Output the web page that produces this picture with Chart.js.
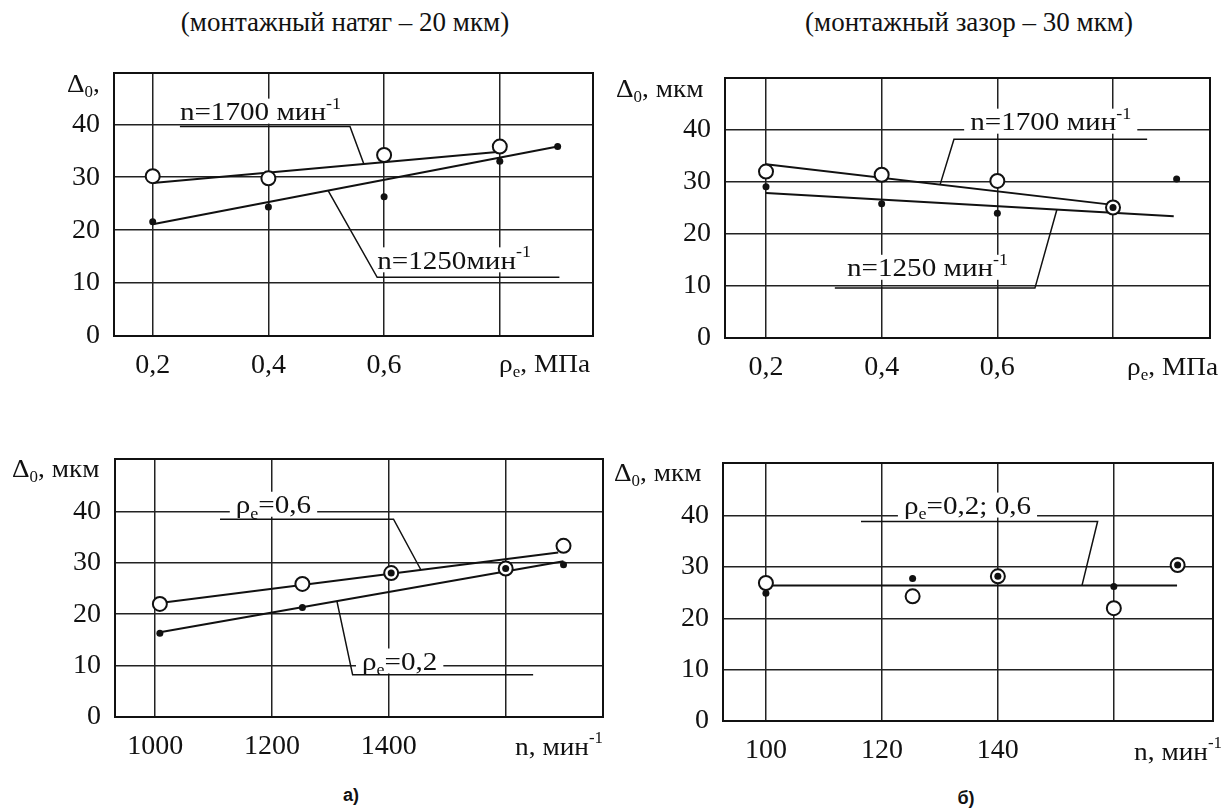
<!DOCTYPE html>
<html lang="ru">
<head>
<meta charset="utf-8">
<script src="https://cdn.jsdelivr.net/npm/chart.js@4.4.1/dist/chart.umd.min.js"></script>
<style>
  body { margin: 0; background: #fff; }
  #page { position: relative; width: 1231px; height: 808px; overflow: hidden; background: #fff; color: #111; }
  canvas { position: absolute; }
  .cap { position: absolute; transform: translate(-50%, -50%); white-space: nowrap; }
  .hd { font-family: 'Liberation Serif', 'Times New Roman', serif; font-size: 27px; }
  .lt { font-family: 'Liberation Sans', Arial, sans-serif; font-weight: bold; font-size: 18px; }
</style>
</head>
<body>
<div id="page">
  <div class="cap hd" style="left:345px;top:22px">(монтажный натяг – 20 мкм)</div>
  <div class="cap hd" style="left:969px;top:22px">(монтажный зазор – 30 мкм)</div>
  <canvas id="c1"></canvas>
  <canvas id="c2"></canvas>
  <canvas id="c3"></canvas>
  <canvas id="c4"></canvas>
  <div class="cap lt" style="left:351px;top:795px">а)</div>
  <div class="cap lt" style="left:966px;top:798px">б)</div>
</div>
<script>
// tick labels
const PE_TICKS = [0.2, 0.4, 0.6, 0.8];
const PE_LABELS = ['0,2', '0,4', '0,6', ''];
const N1_TICKS = [1000, 1200, 1400, 1600];
const N1_LABELS = ['1000', '1200', '1400', ''];
const N2_TICKS = [100, 120, 140, 160];
const N2_LABELS = ['100', '120', '140', ''];
const D_TICKS = [0, 10, 20, 30, 40];

// а) top: Δ0 vs ρe, натяг 20 мкм
const a1X1700 = [0.2, 0.4, 0.6, 0.8];
const a1N1700 = [30.2, 29.8, 34.2, 35.8];
const a1X1250 = [0.2, 0.4, 0.6, 0.8, 0.9];
const a1N1250 = [21.6, 24.4, 26.3, 33.0, 35.8];
const a1FitX1700 = [0.2, 0.8];
const a1Fit1700 = [28.9, 34.8];
const a1FitX1250 = [0.2, 0.9];
const a1Fit1250 = [21.1, 35.8];

// б) top: Δ0 vs ρe, зазор 30 мкм
const b1X1700 = [0.2, 0.4, 0.6, 0.8];
const b1N1700 = [32.0, 31.4, 30.2, 25.1];
const b1X1250 = [0.2, 0.4, 0.6, 0.8, 0.91];
const b1N1250 = [29.1, 25.8, 24.0, 25.1, 30.6];
const b1FitX1700 = [0.2, 0.8];
const b1Fit1700 = [33.4, 25.6];
const b1FitX1250 = [0.2, 0.905];
const b1Fit1250 = [27.9, 23.4];

// а) bottom: Δ0 vs n
const a2X = [1008, 1252, 1404, 1600, 1699];
const a2Pe06 = [22.0, 25.9, 28.0, 28.9, 33.3];
const a2Pe02 = [16.3, 21.3, 28.0, 28.9, 29.6];
const a2FitX06 = [1008, 1690];
const a2Fit06 = [22.2, 32.0];
const a2FitX02 = [1008, 1699];
const a2Fit02 = [16.5, 30.3];

// б) bottom: Δ0 vs n
const b2X = [100, 125.3, 140, 160, 171];
const b2Pe06 = [26.9, 24.3, 28.2, 22.0, 30.4];
const b2Pe02 = [24.9, 27.8, 28.2, 26.2, 30.4];
const b2FitX = [100.3, 170.9];
const b2Fit = [26.4, 26.4];

// leader lines (label underline + stroke to the curve)
const a1LeadX1700 = [0.247, 0.541, 0.565], a1LeadY1700 = [39.6, 39.6, 32.5];
const a1LeadX1250 = [0.903, 0.588, 0.503], a1LeadY1250 = [11.1, 11.1, 27.5];
const b1LeadX1700 = [0.859, 0.525, 0.501], b1LeadY1700 = [38.2, 38.2, 29.5];
const b1LeadX1250 = [0.319, 0.665, 0.703], b1LeadY1250 = [9.6, 9.6, 24.7];
const a2LeadX06 = [1111, 1408, 1455], a2LeadY06 = [38.5, 38.5, 28.6];
const a2LeadX02 = [1647, 1338, 1311], a2LeadY02 = [8.2, 8.2, 22.6];
const b2LeadX = [116.4, 157.2, 154.5], b2LeadY = [38.9, 38.9, 26.4];

const SERIF = "'Liberation Serif', 'Times New Roman', serif";
const INK = '#111';
const NOTE_SIZE = 26;

const pts = (xs, ys) => xs.map((x, i) => ({ x: x, y: ys[i] }));
const dots = (xs, ys) => ({ data: pts(xs, ys), showLine: false, pointRadius: 3.5, pointBackgroundColor: INK, pointBorderWidth: 0 });
const rings = (xs, ys) => ({ data: pts(xs, ys), showLine: false, pointRadius: 7, pointBackgroundColor: '#fff', pointBorderColor: INK, pointBorderWidth: 2 });
const line = (xs, ys, w) => ({ data: pts(xs, ys), showLine: true, borderColor: INK, borderWidth: w, pointRadius: 0, fill: false });

const supM1 = [{ t: '-1', sup: 1 }];
const rho = (s) => [{ t: 'ρ' }, { t: 'e', sub: 1 }, { t: s }];
const delta = (s) => [{ t: 'Δ' }, { t: '0', sub: 1 }, { t: s }];

// draws text made of normal / sub / sup pieces; y is the visual middle
function drawRich(ctx, segs, x, y, size, align, stretch, dry) {
  const parts = segs.map(s => {
    const fs = (s.sub || s.sup) ? size * 0.62 : size;
    ctx.font = fs + 'px ' + SERIF;
    return { s: s, fs: fs, w: ctx.measureText(s.t).width };
  });
  const w = parts.reduce((a, p) => a + p.w, 0) * stretch;
  if (dry) return w;
  const x0 = align === 'right' ? x - w : x;
  ctx.save();
  ctx.translate(x0, 0);
  ctx.scale(stretch, 1);
  ctx.fillStyle = INK;
  ctx.textBaseline = 'alphabetic';
  const base = y + size * 0.33;
  let cx = 0;
  parts.forEach(p => {
    ctx.font = p.fs + 'px ' + SERIF;
    const dy = p.s.sub ? size * 0.2 : p.s.sup ? -size * 0.45 : 0;
    ctx.fillText(p.s.t, cx, base + dy);
    cx += p.w;
  });
  ctx.restore();
  return w;
}

const sketch = {
  id: 'sketch',
  beforeDatasetsDraw(chart, args, o) {
    const ctx = chart.ctx, xs = chart.scales.x, ys = chart.scales.y;
    (o.notes || []).forEach(n => {
      const px = xs.getPixelForValue(n.x), py = ys.getPixelForValue(n.y);
      const w = drawRich(ctx, n.segs, px, py, NOTE_SIZE, 'left', 1.12, true);
      ctx.fillStyle = '#fff';
      ctx.fillRect(px - 6, py - 13, w + 12, 25);
    });
  },
  afterDraw(chart, args, o) {
    const ctx = chart.ctx, a = chart.chartArea, xs = chart.scales.x, ys = chart.scales.y;
    ctx.save();
    ctx.strokeStyle = INK;
    ctx.lineWidth = 2;
    ctx.strokeRect(a.left, a.top, a.right - a.left, a.bottom - a.top);
    ctx.restore();
    (o.notes || []).forEach(n => {
      drawRich(ctx, n.segs, xs.getPixelForValue(n.x), ys.getPixelForValue(n.y), NOTE_SIZE, 'left', 1.12);
    });
    drawRich(ctx, o.yTitle, a.left + o.yTitleAt[0], a.top + o.yTitleAt[1], 26, 'left', 1.05);
    drawRich(ctx, o.xTitle, a.right + o.xTitleAt[0], a.bottom + o.xTitleAt[1], 26, 'right', 1.05);
  }
};

function makePanel(p) {
  const cv = document.getElementById(p.id);
  cv.width = p.box[2];
  cv.height = p.box[3];
  cv.style.left = p.box[0] + 'px';
  cv.style.top = p.box[1] + 'px';
  const [cx, cy, cw, ch] = p.box;
  const [L, T, R, B] = p.area;
  return new Chart(cv, {
    type: 'scatter',
    data: { datasets: p.datasets },
    options: {
      responsive: false,
      animation: false,
      events: [],
      layout: { padding: { left: 0, top: T - cy, right: cx + cw - R, bottom: 0 } },
      plugins: { legend: { display: false }, tooltip: { enabled: false }, sketch: p.extras },
      scales: {
        x: {
          type: 'linear', min: p.xMin, max: p.xMax,
          afterBuildTicks: s => { s.ticks = p.xTicks.map(v => ({ value: v })); },
          afterFit: s => { s.height = cy + ch - B; },
          ticks: { callback: (v, i) => p.xLabels[i], font: { family: SERIF, size: 28 }, color: INK, padding: 13, maxRotation: 0, autoSkip: false },
          grid: { color: '#222', lineWidth: 1.5, drawTicks: false },
          border: { color: INK, width: 2 }
        },
        y: {
          type: 'linear', min: 0, max: p.yMax,
          afterBuildTicks: s => { s.ticks = D_TICKS.map(v => ({ value: v })); },
          afterFit: s => { s.width = L - cx; },
          ticks: { callback: v => String(v), font: { family: SERIF, size: 28 }, color: INK, padding: 14, autoSkip: false },
          grid: { color: '#222', lineWidth: 1.5, drawTicks: false },
          border: { color: INK, width: 2 }
        }
      }
    },
    plugins: [sketch]
  });
}

makePanel({
  id: 'c1', box: [0, 40, 615, 360], area: [114, 73, 593, 336],
  xMin: 0.1331, xMax: 0.9611, yMax: 49.7, xTicks: PE_TICKS, xLabels: PE_LABELS,
  datasets: [
    dots(a1X1250, a1N1250), rings(a1X1700, a1N1700),
    line(a1FitX1700, a1Fit1700, 2), line(a1FitX1250, a1Fit1250, 2),
    line(a1LeadX1700, a1LeadY1700, 1.5), line(a1LeadX1250, a1LeadY1250, 1.5)
  ],
  extras: {
    notes: [
      { x: 0.247, y: 42.4, segs: [{ t: 'n=1700 мин' }].concat(supM1) },
      { x: 0.588, y: 14.3, segs: [{ t: 'n=1250мин' }].concat(supM1) }
    ],
    yTitle: delta(','), yTitleAt: [-47, 10],
    xTitle: rho(', МПа'), xTitleAt: [-3, 27]
  }
});

makePanel({
  id: 'c2', box: [615, 40, 616, 360], area: [725, 78, 1210, 338],
  xMin: 0.1291, xMax: 0.9677, yMax: 50, xTicks: PE_TICKS, xLabels: PE_LABELS,
  datasets: [
    dots(b1X1250, b1N1250), rings(b1X1700, b1N1700),
    line(b1FitX1700, b1Fit1700, 2), line(b1FitX1250, b1Fit1250, 2),
    line(b1LeadX1700, b1LeadY1700, 1.5), line(b1LeadX1250, b1LeadY1250, 1.5)
  ],
  extras: {
    notes: [
      { x: 0.553, y: 41.6, segs: [{ t: 'n=1700 мин' }].concat(supM1) },
      { x: 0.34, y: 13.5, segs: [{ t: 'n=1250 мин' }].concat(supM1) }
    ],
    yTitle: delta(', мкм'), yTitleAt: [-109, 10],
    xTitle: rho(', МПа'), xTitleAt: [8, 28]
  }
});

makePanel({
  id: 'c3', box: [0, 420, 615, 350], area: [115, 459, 603, 717],
  xMin: 931.2, xMax: 1766.6, yMax: 50.2, xTicks: N1_TICKS, xLabels: N1_LABELS,
  datasets: [
    dots(a2X, a2Pe02), rings(a2X, a2Pe06),
    line(a2FitX06, a2Fit06, 2), line(a2FitX02, a2Fit02, 2),
    line(a2LeadX06, a2LeadY06, 1.5), line(a2LeadX02, a2LeadY02, 1.5)
  ],
  extras: {
    notes: [
      { x: 1138, y: 41.3, segs: rho('=0,6') },
      { x: 1354, y: 10.8, segs: rho('=0,2') }
    ],
    yTitle: delta(', мкм'), yTitleAt: [-103, 9],
    xTitle: [{ t: 'n, мин' }].concat(supM1), xTitleAt: [0, 29]
  }
});

makePanel({
  id: 'c4', box: [615, 420, 616, 350], area: [723, 463, 1213, 721],
  xMin: 92.6, xMax: 177.1, yMax: 50.3, xTicks: N2_TICKS, xLabels: N2_LABELS,
  datasets: [
    dots(b2X, b2Pe02), rings(b2X, b2Pe06),
    line(b2FitX, b2Fit, 2), line(b2LeadX, b2LeadY, 1.5)
  ],
  extras: {
    notes: [
      { x: 123.8, y: 42, segs: rho('=0,2; 0,6') }
    ],
    yTitle: delta(', мкм'), yTitleAt: [-109, 9],
    xTitle: [{ t: 'n, мин' }].concat(supM1), xTitleAt: [9, 30]
  }
});
</script>
</body>
</html>
